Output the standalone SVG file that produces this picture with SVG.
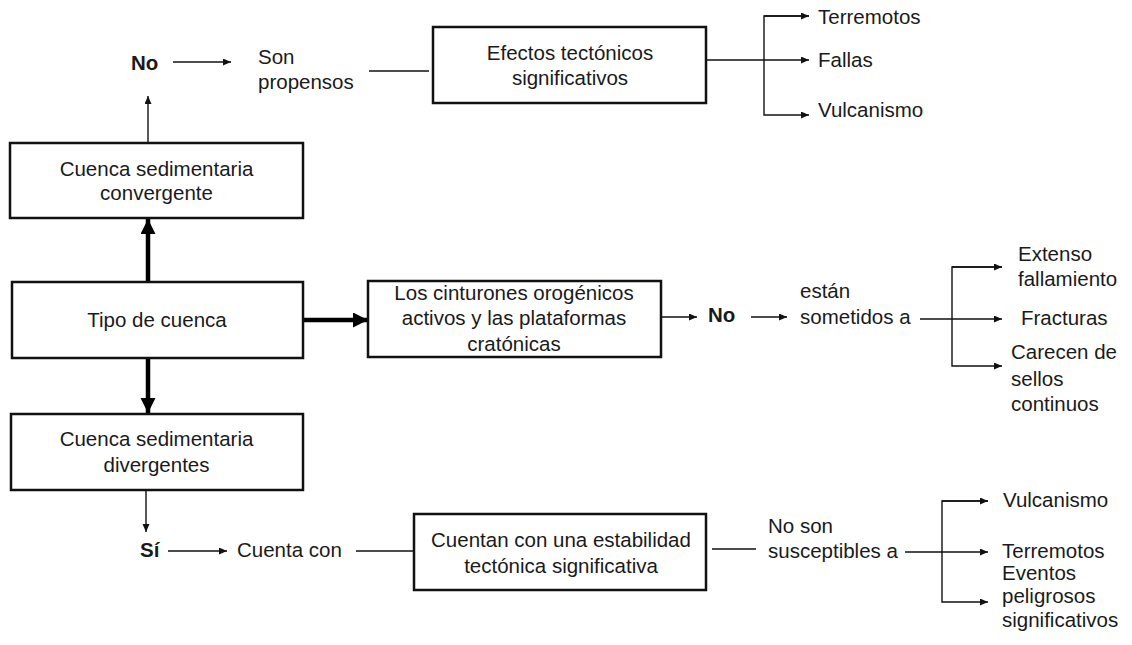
<svg xmlns="http://www.w3.org/2000/svg" width="1132" height="645" viewBox="0 0 1132 645">
<style>
text{font-family:"Liberation Sans",Arial,sans-serif;font-size:20.5px;fill:#1a1a1a}
.b{font-weight:bold}
.c{text-anchor:middle}
.box{fill:#fff;stroke:#111;stroke-width:2.5}
.thin{stroke:#111;stroke-width:1.4;fill:none}
.thick{stroke:#000;stroke-width:4.5;fill:none}
</style>
<defs>
<marker id="a" markerUnits="userSpaceOnUse" markerWidth="9" markerHeight="8" refX="8" refY="3.5" orient="auto"><path d="M0,0 L8,3.5 L0,7 z" fill="#111"/></marker>
<marker id="A" markerUnits="userSpaceOnUse" markerWidth="16" markerHeight="16" refX="15" refY="7.5" orient="auto"><path d="M0,0 L15,7.5 L0,15 z" fill="#000"/></marker>
</defs>
<rect width="1132" height="645" fill="#fff"/>
<g id="connectors">
<line class="thin" x1="148" y1="143" x2="148" y2="96" marker-end="url(#a)"/>
<line class="thin" x1="173" y1="62" x2="231" y2="62" marker-end="url(#a)"/>
<line class="thin" x1="369" y1="71" x2="429" y2="71"/>
<line class="thin" x1="706" y1="60" x2="809" y2="60" marker-end="url(#a)"/>
<path class="thin" d="M809,16 H764 V115 H809" marker-end="url(#a)"/>
<line class="thin" x1="764" y1="16" x2="809" y2="16" marker-end="url(#a)"/>
<line class="thick" x1="148" y1="281" x2="148" y2="219" marker-end="url(#A)"/>
<line class="thick" x1="303" y1="320" x2="368" y2="320" marker-end="url(#A)"/>
<line class="thick" x1="148" y1="358" x2="148" y2="413" marker-end="url(#A)"/>
<line class="thin" x1="661" y1="317" x2="697" y2="317" marker-end="url(#a)"/>
<line class="thin" x1="751" y1="317" x2="787" y2="317" marker-end="url(#a)"/>
<line class="thin" x1="920" y1="319" x2="1002" y2="319" marker-end="url(#a)"/>
<path class="thin" d="M1002,267 H952 V366 H1002" marker-end="url(#a)"/>
<line class="thin" x1="952" y1="267" x2="1002" y2="267" marker-end="url(#a)"/>
<line class="thin" x1="146" y1="490" x2="146" y2="532" marker-end="url(#a)"/>
<line class="thin" x1="168" y1="551" x2="227" y2="551" marker-end="url(#a)"/>
<line class="thin" x1="356" y1="551" x2="414" y2="551"/>
<line class="thin" x1="712" y1="549" x2="756" y2="549"/>
<line class="thin" x1="905" y1="552" x2="988" y2="552" marker-end="url(#a)"/>
<path class="thin" d="M988,501 H942 V602 H988" marker-end="url(#a)"/>
<line class="thin" x1="942" y1="501" x2="988" y2="501" marker-end="url(#a)"/>
</g>
<g id="no-top"><text class="b" x="131" y="70">No</text></g>
<g id="son-propensos"><text x="258" y="64">Son</text><text x="258" y="89">propensos</text></g>
<g id="efectos"><rect class="box" x="433" y="27" width="273" height="76"/><text class="c" x="570" y="60">Efectos tectónicos</text><text class="c" x="570" y="85">significativos</text></g>
<g id="terremotos1"><text x="818" y="24">Terremotos</text></g>
<g id="fallas"><text x="818" y="67">Fallas</text></g>
<g id="vulcanismo1"><text x="818" y="117">Vulcanismo</text></g>
<g id="convergente"><rect class="box" x="10" y="143" width="293" height="75"/><text class="c" x="156.5" y="176">Cuenca sedimentaria</text><text class="c" x="156.5" y="200">convergente</text></g>
<g id="tipo"><rect class="box" x="12" y="282" width="291" height="76"/><text class="c" x="157" y="327">Tipo de cuenca</text></g>
<g id="cinturones"><rect class="box" x="368" y="281" width="293" height="76"/><text class="c" x="514" y="300">Los cinturones orogénicos</text><text class="c" x="514" y="325">activos y las plataformas</text><text class="c" x="514" y="351">cratónicas</text></g>
<g id="no-mid"><text class="b" x="708" y="322">No</text></g>
<g id="sometidos"><text x="800" y="298">están</text><text x="800" y="324">sometidos a</text></g>
<g id="extenso"><text x="1018" y="261">Extenso</text><text x="1018" y="286">fallamiento</text></g>
<g id="fracturas"><text x="1021" y="325">Fracturas</text></g>
<g id="carecen"><text x="1011" y="359">Carecen de</text><text x="1011" y="386">sellos</text><text x="1011" y="411">continuos</text></g>
<g id="divergentes"><rect class="box" x="11" y="414" width="292" height="76"/><text class="c" x="156.5" y="446">Cuenca sedimentaria</text><text class="c" x="156.5" y="472">divergentes</text></g>
<g id="si"><text class="b" x="140" y="557">Sí</text></g>
<g id="cuenta-con"><text x="237" y="557">Cuenta con</text></g>
<g id="estabilidad"><rect class="box" x="414" y="514" width="292" height="76"/><text class="c" x="561" y="547">Cuentan con una estabilidad</text><text class="c" x="561" y="573">tectónica significativa</text></g>
<g id="no-son"><text x="768" y="533">No son</text><text x="768" y="558">susceptibles a</text></g>
<g id="vulcanismo2"><text x="1003" y="507">Vulcanismo</text></g>
<g id="terremotos2"><text x="1002" y="558">Terremotos</text></g>
<g id="eventos"><text x="1002" y="580">Eventos</text><text x="1002" y="603">peligrosos</text><text x="1002" y="627">significativos</text></g>
</svg>
